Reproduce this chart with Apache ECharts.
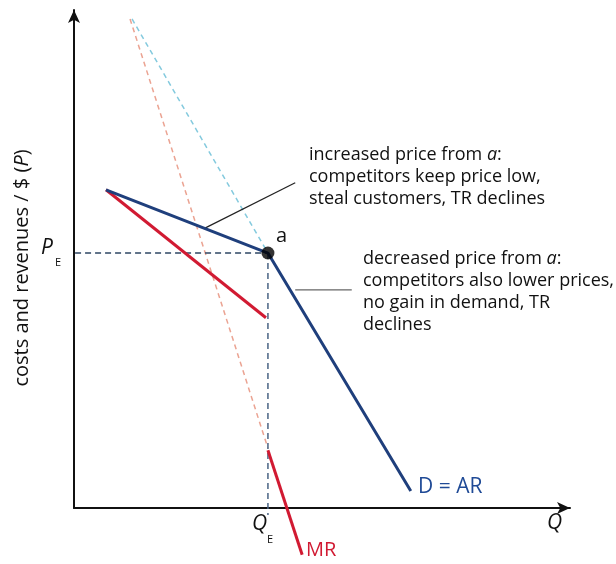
<!DOCTYPE html>
<html>
<head>
<meta charset="utf-8">
<script src="https://cdn.jsdelivr.net/npm/echarts@6/dist/echarts.min.js"></script>
<style>
html,body{margin:0;padding:0;background:#fff;}
#chart{width:616px;height:564px;}
</style>
</head>
<body>
<div id="chart"></div>
<script>
// Kinked demand curve data (x = quantity units, y = price units)
const demandCurve = [[6.45, 63.9], [39.1, 51.2], [67.9, 3.4]];
const demandExtension = [[11.7, 98.2], [39.1, 51.2]];
const mrUpper = [[6.45, 63.9], [38.7, 38.2]];
const mrLower = [[39.1, 11.6], [46.0, -9.4]];
const mrExtension = [[11.3, 98.2], [39.1, 12.0]];
const pointA = [39.1, 51.2];
const priceGuide = [[-1.8, 51.2], [39.1, 51.2]];
const quantityGuide = [[39.1, 51.2], [39.1, -1.4]];
const leaderUp = [[26.4, 56.2], [44.6, 65.3]];
const leaderDown = [[44.6, 43.8], [56.0, 43.8]];

const FONT = '"Open Sans", "Noto Sans", sans-serif';
const chart = echarts.init(document.getElementById('chart'), null, {renderer: 'canvas'});

function lineSeries(data, color, width, type, z) {
  return {
    type: 'line', data: data, symbol: 'none', clip: false, silent: true, z: z,
    lineStyle: {color: color, width: width, type: type}, animation: false
  };
}

const option = {
  backgroundColor: '#ffffff',
  animation: false,
  grid: {left: 74, top: 10, right: 46, bottom: 56},
  xAxis: {
    type: 'value', min: 0, max: 100,
    axisLine: {show: true, onZero: false, symbol: ['none', 'arrow'], symbolSize: [9, 13],
      lineStyle: {color: '#111', width: 2}},
    axisTick: {show: false}, axisLabel: {show: false}, splitLine: {show: false}
  },
  yAxis: {
    type: 'value', min: 0, max: 100,
    axisLine: {show: true, onZero: false, symbol: ['none', 'arrow'], symbolSize: [9, 13],
      lineStyle: {color: '#111', width: 2}},
    axisTick: {show: false}, axisLabel: {show: false}, splitLine: {show: false}
  },
  series: [
    lineSeries(demandExtension, '#84cade', 1.5, [5, 4], 1),
    lineSeries(mrExtension, '#eba392', 1.5, [5, 4], 1),
    lineSeries(priceGuide, '#2e4563', 1.5, [6, 4], 2),
    lineSeries(quantityGuide, '#4a6384', 1.5, [6, 4], 2),
    lineSeries(leaderUp, '#222', 1.2, 'solid', 3),
    lineSeries(leaderDown, '#666', 1.2, 'solid', 3),
    lineSeries(mrUpper, '#d11a32', 3, 'solid', 4),
    lineSeries(mrLower, '#d11a32', 3, 'solid', 4),
    lineSeries(demandCurve, '#1f3f7c', 3, 'solid', 5),
    {
      type: 'scatter', data: [pointA], symbol: 'circle', symbolSize: 13, z: 6,
      itemStyle: {color: '#000'}, silent: true
    }
  ],
  graphic: [
    {type: 'text', left: 309, top: 144, style: {
      text: 'increased price from {i|a}:\ncompetitors keep price low,\nsteal customers, TR declines',
      font: '18px ' + FONT, fill: '#111', lineHeight: 22,
      rich: {i: {font: 'italic 18px ' + FONT, fill: '#111', lineHeight: 22}}}},
    {type: 'text', left: 363, top: 248, style: {
      text: 'decreased price from {i|a}:\ncompetitors also lower prices,\nno gain in demand, TR\ndeclines',
      font: '18px ' + FONT, fill: '#111', lineHeight: 22,
      rich: {i: {font: 'italic 18px ' + FONT, fill: '#111', lineHeight: 22}}}},
    {type: 'text', x: 22, y: 268, rotation: Math.PI / 2, style: {
      text: 'costs and revenues / $ ({i|P})', font: '20px ' + FONT, fill: '#111',
      align: 'center', verticalAlign: 'middle',
      rich: {i: {font: 'italic 20px ' + FONT, fill: '#111'}}}},
    {type: 'text', x: 41, y: 238, style: {text: 'P', font: 'italic 21px ' + FONT, fill: '#111'}},
    {type: 'text', x: 55, y: 257, style: {text: 'E', font: '11px ' + FONT, fill: '#111'}},
    {type: 'text', x: 252, y: 514, style: {text: 'Q', font: 'italic 21px ' + FONT, fill: '#111'}},
    {type: 'text', x: 267, y: 534, style: {text: 'E', font: '11px ' + FONT, fill: '#111'}},
    {type: 'text', x: 547, y: 513, style: {text: 'Q', font: 'italic 21px ' + FONT, fill: '#111'}},
    {type: 'text', x: 276, y: 226, style: {text: 'a', font: '20px ' + FONT, fill: '#111'}},
    {type: 'text', x: 418, y: 477, style: {text: 'D = AR', font: '21px ' + FONT, fill: '#1f4a96'}},
    {type: 'text', x: 306, y: 540, style: {text: 'MR', font: '20px ' + FONT, fill: '#d11a32'}}
  ]
};
chart.setOption(option);
</script>
</body>
</html>
